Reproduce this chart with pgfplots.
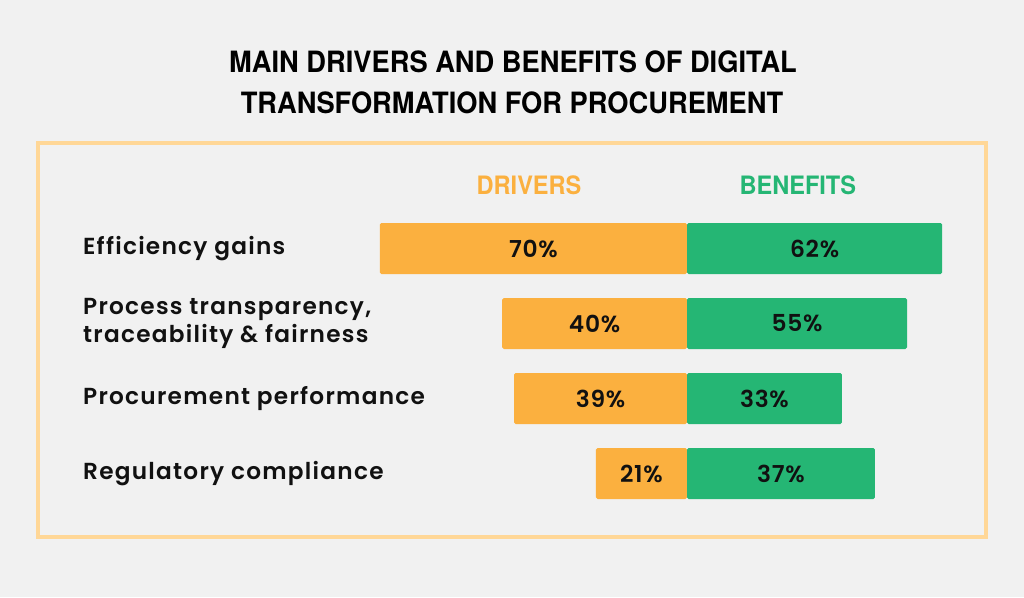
\documentclass[border=0pt]{standalone}
\usepackage{pgfplots}
\pgfplotsset{compat=1.18}
\usepackage{pgfplotstable}
\usepackage{fontspec}
\setmainfont{Poppins}
\newfontfamily\titlefont{TeX Gyre Heros}[FakeStretch=0.93]
\newfontfamily\labfont{Poppins SemiBold}[LetterSpace=5.5]
\newfontfamily\numfont{Poppins SemiBold}[LetterSpace=3]
\definecolor{bgc}{HTML}{F1F1F1}
\definecolor{frm}{HTML}{FFD797}
\definecolor{drv}{HTML}{FBB03F}
\definecolor{ben}{HTML}{25B674}
\definecolor{txt}{HTML}{111111}

% y: 3 = Efficiency gains ... 0 = Regulatory compliance
% drv/ben: bar lengths as drawn; drvl/benl: printed values (%)
\pgfplotstableread{
y drv ben drvl benl
3 -69.8 58.0 70 62
2 -42.0 50.0 40 55
1 -39.3 35.2 39 33
0 -20.7 42.7 21 37
}\datatable

\begin{document}
\begin{tikzpicture}
\begin{scope}[x=0.75pt,y=-0.75pt]
\fill[bgc] (0,0) rectangle (1024,597);
\draw[frm, line width=3pt] (38,143) rectangle (986,537);
\node[font=\titlefont\bfseries\fontsize{22}{26}\selectfont, text=black] at (513,62) {MAIN DRIVERS AND BENEFITS OF DIGITAL};
\node[font=\titlefont\bfseries\fontsize{22}{26}\selectfont, text=black] at (512,103) {TRANSFORMATION FOR PROCUREMENT};
\end{scope}
\begin{axis}[
  at={(277.65pt,-383.25pt)}, anchor=south west,
  scale only axis, width=442.2pt, height=225pt,
  xmin=-72, xmax=62, ymin=-0.5, ymax=3.5,
  hide axis, clip=false,
]
\addplot[xbar, bar width=38.25pt, bar shift=0pt, fill=drv, draw=none, rounded corners=1.2pt] table[x=drv, y=y] {\datatable};
\addplot[xbar, bar width=38.25pt, bar shift=0pt, fill=ben, draw=none, rounded corners=1.2pt] table[x=ben, y=y] {\datatable};
\addplot[draw=none, mark=none, nodes near coords={\pgfplotspointmeta\%}, point meta=explicit symbolic,
  nodes near coords align=center, every node near coord/.append style={font=\numfont\fontsize{17.5}{20}\selectfont, text=txt}]
  table[x expr=\thisrow{drv}/2, y=y, meta=drvl] {\datatable};
\addplot[draw=none, mark=none, nodes near coords={\pgfplotspointmeta\%}, point meta=explicit symbolic,
  nodes near coords align=center, every node near coord/.append style={font=\numfont\fontsize{17.5}{20}\selectfont, text=txt}]
  table[x expr=\thisrow{ben}/2, y=y, meta=benl] {\datatable};
\node[font=\titlefont\bfseries\fontsize{19}{22}\selectfont, text=drv] at (axis cs:-35.9,3.847) {DRIVERS};
\node[font=\titlefont\bfseries\fontsize{19}{22}\selectfont, text=ben] at (axis cs:25.2,3.847) {BENEFITS};
\begin{scope}[every node/.style={anchor=west, font=\labfont\fontsize{17.4}{21.5}\selectfont, text=txt, align=left, inner sep=0pt}]
\node at (axis cs:-137.3,3) {Efficiency gains};
\node at (axis cs:-137.3,2) {Process transparency,\\traceability \& fairness};
\node at (axis cs:-137.3,1) {Procurement performance};
\node at (axis cs:-137.3,0) {Regulatory compliance};
\end{scope}
\end{axis}
\end{tikzpicture}
\end{document}
